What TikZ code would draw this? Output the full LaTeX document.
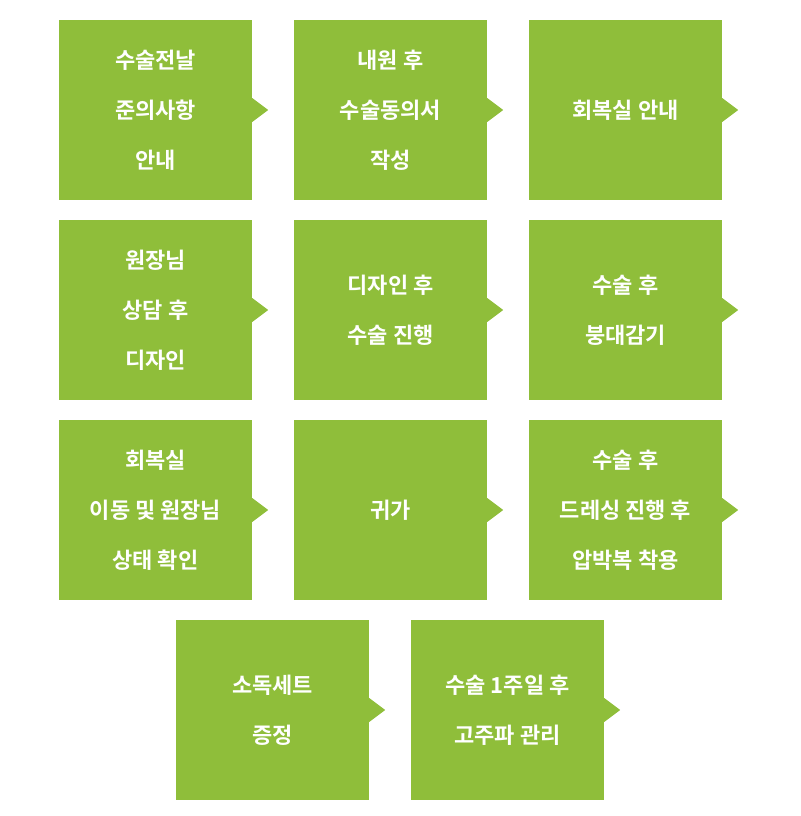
\documentclass[tikz,border=0pt]{standalone}
\usepackage{fontspec}
\newfontfamily\kr{Noto Sans CJK KR}[BoldFont={* Bold}]
\definecolor{gr}{RGB}{143,190,58}
\tikzset{
  box/.style={fill=gr,minimum width=193pt,minimum height=180pt,inner sep=0pt,
    text=white,align=center,font=\kr\bfseries\fontsize{22pt}{50pt}\selectfont},
}
\newcommand{\tip}[1]{\fill[gr] ([yshift=12pt]#1.east) -- ([xshift=16pt]#1.east) -- ([yshift=-12pt]#1.east) -- cycle;}
\begin{document}
\begin{tikzpicture}[x=1pt,y=-1pt]
\useasboundingbox (0,0) rectangle (800,816);
\node[box] (a1) at (155.5,110) {수술전날\\준의사항\\안내}; \tip{a1}
\node[box] (a2) at (390.5,110) {내원 후\\수술동의서\\작성}; \tip{a2}
\node[box] (a3) at (625.5,110) {회복실 안내}; \tip{a3}
\node[box] (b1) at (155.5,310) {원장님\\상담 후\\디자인}; \tip{b1}
\node[box] (b2) at (390.5,310) {디자인 후\\수술 진행}; \tip{b2}
\node[box] (b3) at (625.5,310) {수술 후\\붕대감기}; \tip{b3}
\node[box] (c1) at (155.5,510) {회복실\\이동 및 원장님\\상태 확인}; \tip{c1}
\node[box] (c2) at (390.5,510) {귀가}; \tip{c2}
\node[box] (c3) at (625.5,510) {수술 후\\드레싱 진행 후\\압박복 착용}; \tip{c3}
\node[box] (d1) at (272.5,710) {소독세트\\증정}; \tip{d1}
\node[box] (d2) at (507.5,710) {수술 1주일 후\\고주파 관리}; \tip{d2}
\end{tikzpicture}
\end{document}
